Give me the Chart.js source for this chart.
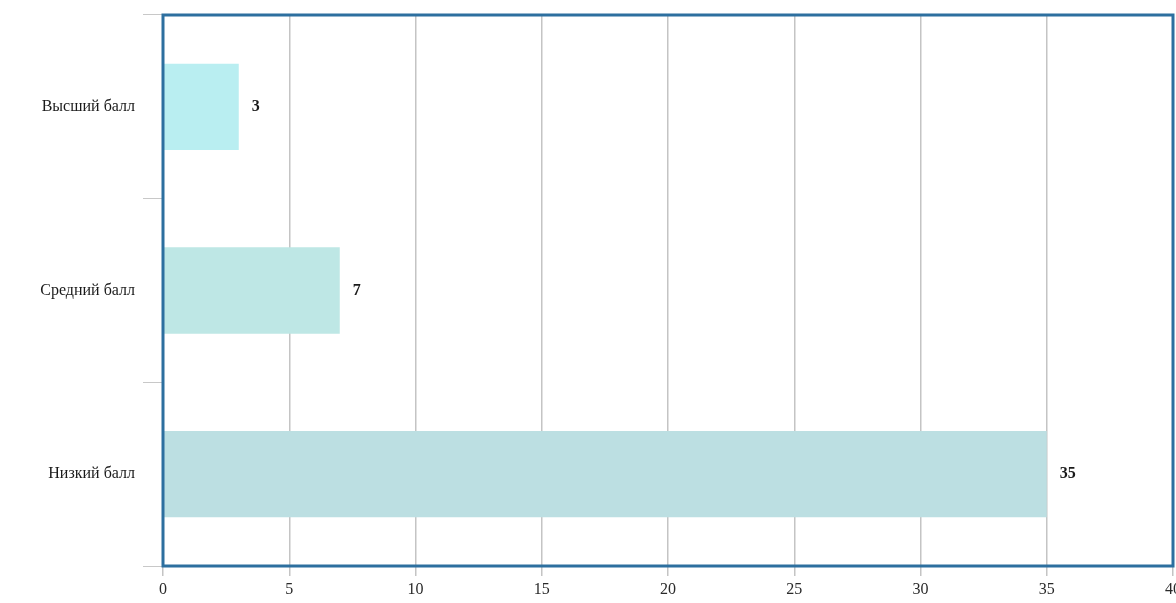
<!DOCTYPE html>
<html>
<head>
<meta charset="utf-8">
<script src="https://cdn.jsdelivr.net/npm/chart.js@4/dist/chart.umd.min.js"></script>
<style>
    html, body { margin: 0; padding: 0; background: #fff; }
    #wrap { width: 1176px; height: 603px; }
</style>
</head>
<body>
<div id="wrap"><canvas id="chart"></canvas></div>
<script>
const categories = ['Высший балл', 'Средний балл', 'Низкий балл'];
const scores = [3, 7, 35];
const barColors = ['#b9eef1', '#bee7e5', '#bcdfe2'];
const xTicks = [0, 5, 10, 15, 20, 25, 30, 35, 40];

const serif = '"Liberation Serif", "DejaVu Serif", serif';

// blue frame around the plot area
const framePlugin = {
    id: 'frame',
    afterDraw(chart) {
        const {ctx, chartArea} = chart;
        ctx.save();
        ctx.strokeStyle = '#2d6f9f';
        ctx.lineWidth = 3;
        ctx.strokeRect(chartArea.left, chartArea.top, chartArea.right - chartArea.left, chartArea.bottom - chartArea.top);
        ctx.restore();
    }
};

// value at the end of each bar
const valuePlugin = {
    id: 'values',
    afterDatasetsDraw(chart) {
        const {ctx} = chart;
        const meta = chart.getDatasetMeta(0);
        ctx.save();
        ctx.font = 'bold 16px ' + serif;
        ctx.fillStyle = '#1a1a1a';
        ctx.textBaseline = 'middle';
        meta.data.forEach((bar, i) => {
            ctx.fillText(String(scores[i]), bar.x + 13, bar.y);
        });
        ctx.restore();
    }
};

new Chart(document.getElementById('chart'), {
    type: 'bar',
    data: {
        labels: categories,
        datasets: [{
            data: scores,
            backgroundColor: barColors,
            borderWidth: 0,
            barPercentage: 0.47,
            categoryPercentage: 1
        }]
    },
    options: {
        indexAxis: 'y',
        responsive: true,
        maintainAspectRatio: false,
        animation: false,
        layout: {padding: {top: 15, right: 3, left: 0, bottom: 0}},
        plugins: {
            legend: {display: false},
            tooltip: {enabled: false}
        },
        scales: {
            x: {
                min: 0,
                max: 40,
                afterBuildTicks: scale => {
                    scale.ticks = xTicks.map(v => ({value: v}));
                },
                afterFit: scale => {
                    scale.height = 37;
                    scale.paddingRight = 0;
                },
                border: {display: false},
                grid: {
                    color: '#c4c4c4',
                    lineWidth: 1.5,
                    tickLength: 10
                },
                ticks: {
                    color: '#2a2a2a',
                    padding: 4,
                    maxRotation: 0,
                    font: {family: serif, size: 16}
                }
            },
            y: {
                afterFit: scale => {
                    scale.width = 163;
                    scale.paddingTop = 0;
                    scale.paddingBottom = 0;
                },
                border: {display: false},
                grid: {
                    offset: true,
                    drawOnChartArea: false,
                    color: '#c8c8c8',
                    tickLength: 20
                },
                ticks: {
                    color: '#1a1a1a',
                    padding: 8,
                    font: {family: serif, size: 16}
                }
            }
        }
    },
    plugins: [framePlugin, valuePlugin]
});
</script>
</body>
</html>
